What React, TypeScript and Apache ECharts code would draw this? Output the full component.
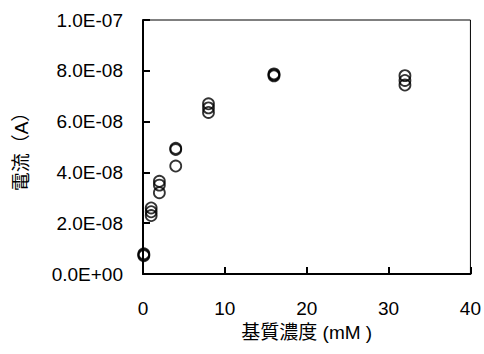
import React, { useEffect, useRef } from "react";
import * as echarts from "echarts";

// substrate concentration (mM)
const concentrations = [
  0.1, 0.1, 0.1,
  1, 1, 1,
  2, 2, 2,
  4, 4, 4,
  8, 8, 8,
  16, 16, 16,
  32, 32, 32,
];
// current (A)
const currents = [
  7.2e-9, 7.6e-9, 8.0e-9,
  2.6e-8, 2.45e-8, 2.3e-8,
  3.65e-8, 3.5e-8, 3.2e-8,
  4.9e-8, 4.95e-8, 4.25e-8,
  6.7e-8, 6.54e-8, 6.36e-8,
  7.8e-8, 7.84e-8, 7.88e-8,
  7.81e-8, 7.62e-8, 7.44e-8,
];

const xTicks = [0, 10, 20, 30, 40];
const yTicks = [0, 2e-8, 4e-8, 6e-8, 8e-8, 1e-7];

const xTitle = "基質濃度 (mM )";
const yTitle = "電流（A）";

function fmtSci(v: number): string {
  if (Math.abs(v) < 1e-20) return "0.0E+00";
  const exp = Math.floor(Math.log10(Math.abs(v)) + 1e-9);
  const mant = v / Math.pow(10, exp);
  const sign = exp < 0 ? "-" : "+";
  const e = Math.abs(exp).toString().padStart(2, "0");
  return mant.toFixed(1) + "E" + sign + e;
}

export default function App() {
  const ref = useRef<HTMLDivElement>(null);
  useEffect(() => {
    if (!ref.current) return;
    const chart = echarts.init(ref.current, null, { renderer: "svg" });
    const font = "'Liberation Sans', Arial, 'Noto Sans CJK JP', sans-serif";
    chart.setOption({
      animation: false,
      backgroundColor: "#fff",
      grid: {
        left: 143,
        right: 11,
        top: 20,
        bottom: 80,
        show: true,
        borderColor: "#000",
        borderWidth: 1,
        containLabel: false,
      },
      xAxis: {
        type: "value",
        min: xTicks[0],
        max: xTicks[xTicks.length - 1],
        interval: 10,
        name: xTitle,
        nameLocation: "middle",
        nameGap: 47,
        nameTextStyle: { fontSize: 19, color: "#000", fontFamily: font },
        axisLine: { show: true, lineStyle: { color: "#000", width: 2 } },
        axisTick: { show: true, inside: true, length: 7, lineStyle: { color: "#000", width: 2 } },
        axisLabel: { fontSize: 19, color: "#000", fontFamily: font, margin: 25 },
        splitLine: { show: false },
      },
      yAxis: {
        type: "value",
        min: yTicks[0],
        max: yTicks[yTicks.length - 1],
        interval: 2e-8,
        name: yTitle,
        nameLocation: "middle",
        nameRotate: 90,
        nameGap: 112,
        nameTextStyle: { fontSize: 19, color: "#000", fontFamily: font },
        axisLine: { show: true, lineStyle: { color: "#000", width: 2 } },
        axisTick: { show: true, inside: true, length: 7, lineStyle: { color: "#000", width: 2 } },
        axisLabel: {
          fontSize: 19,
          color: "#000",
          fontFamily: font,
          margin: 20,
          formatter: (v: number) => fmtSci(v),
        },
        splitLine: { show: false },
      },
      series: [
        {
          type: "scatter",
          symbol: "circle",
          symbolSize: 11,
          itemStyle: { color: "transparent", borderColor: "#000", borderWidth: 1.8 },
          data: concentrations.map((c, i) => [c, currents[i]]),
        },
      ],
    });
    return () => chart.dispose();
  }, []);
  return (
    <div
      ref={ref}
      style={{ position: "absolute", left: 0, top: 0, width: 484, height: 354 }}
    />
  );
}
